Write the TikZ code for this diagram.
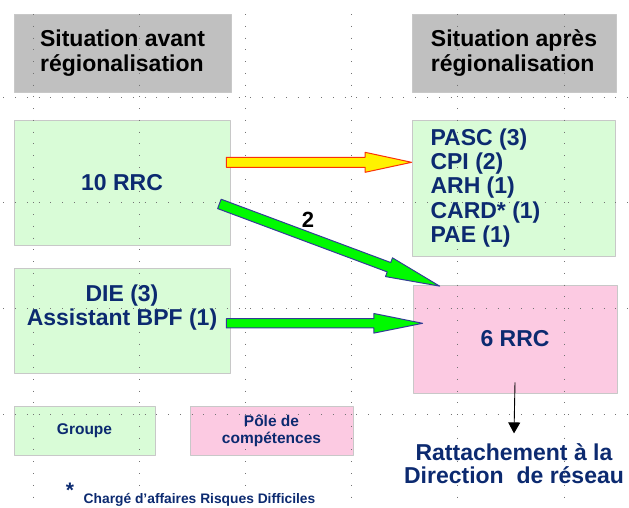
\documentclass[tikz,border=0pt]{standalone}
\usepackage{fontspec}
\setmainfont{Liberation Sans}
\usetikzlibrary{calc,arrows.meta}

\definecolor{navy}{RGB}{12,42,112}
\definecolor{boxgreen}{RGB}{217,252,215}
\definecolor{boxpink}{RGB}{252,202,226}
\definecolor{boxgray}{RGB}{192,192,192}
\definecolor{edgegray}{RGB}{200,200,200}
\definecolor{arrowgreen}{RGB}{0,250,0}
\definecolor{arrowblue}{RGB}{50,60,150}
\definecolor{arrowred}{RGB}{250,50,10}

% block arrow: tail, tip, half shaft, half head, head length, style
\newcommand{\fatarrow}[6]{%
  \coordinate (hb) at ($(#2)!#5!(#1)$);
  \draw[#6] ($(#1)!#3!90:(#2)$) -- ($(hb)!#3!90:(#2)$) -- ($(hb)!#4!90:(#2)$) -- (#2)
    -- ($(hb)!#4!-90:(#2)$) -- ($(hb)!#3!-90:(#2)$) -- ($(#1)!#3!-90:(#2)$) -- cycle;
}

\begin{document}
\begin{tikzpicture}[x=1pt,y=-1pt,line join=round,
  box/.style={draw=edgegray,line width=0.8pt,inner sep=0pt},
  titlebox/.style={box,fill=boxgray,minimum height=78pt,align=left,
    font=\fontsize{23}{24.5}\selectfont\bfseries},
  greenbox/.style={box,fill=boxgreen},
  pinkbox/.style={box,fill=boxpink},
  bigtxt/.style={text=navy,font=\fontsize{23}{24.3}\selectfont\bfseries},
  smalltxt/.style={text=navy,font=\fontsize{15.5}{17}\selectfont\bfseries},
  gridline/.style={draw=black!55,line width=0.9pt,dash pattern=on 0.9pt off 10.87pt}]
  \useasboundingbox (0,0) rectangle (629,507);

  % boxes
  \node[titlebox,minimum width=217pt] (titleAvant) at (122.5,53) {Situation avant\\régionalisation};
  \node[titlebox,minimum width=204pt] (titleApres) at (514,53) {Situation après\\régionalisation};
  \node[greenbox,bigtxt,minimum width=216pt,minimum height=125pt] (rrcAvant) at (122,182.5) {10 RRC};
  \node[greenbox,minimum width=216pt,minimum height=105pt] (dieBox) at (122,320.5) {};
  \node[greenbox,minimum width=203pt,minimum height=136pt] (poleBox) at (513.5,188) {};
  \node[pinkbox,bigtxt,minimum width=204pt,minimum height=108pt] (rrcApres) at (515,339) {6 RRC};
  \node[greenbox,smalltxt,minimum width=141pt,minimum height=49pt] (legGroupe) at (84.5,430.5) {Groupe};
  \node[pinkbox,smalltxt,align=center,minimum width=163pt,minimum height=49pt] (legPole) at (271.5,430.5) {Pôle de\\compétences};

  % dotted guides
  \foreach \gx in {0,...,5}
    \draw[gridline] (33+106.2*\gx,14) -- (33+106.2*\gx,507);
  \foreach \gy in {97,202.9,308.8,414.7}
    \draw[gridline] (3.3,\gy) -- (629,\gy);

  % texts
  \node[bigtxt,align=center] (dieTxt) at (122,307.5) {DIE (3)\\Assistant BPF (1)};
  \node[bigtxt,align=left,anchor=west] (poleTxt) at (427,188) {PASC (3)\\CPI (2)\\ARH (1)\\CARD* (1)\\PAE (1)};
  \node[bigtxt,align=center,font=\fontsize{23}{23}\selectfont\bfseries] (rattach) at (514,463.5) {Rattachement à la\\Direction\ \ de réseau};
  \node[font=\fontsize{22}{22}\selectfont\bfseries] (nbTwo) at (308,220) {2};
  \node[text=navy,font=\fontsize{21}{21}\selectfont\bfseries,anchor=base] (star) at (70,497) {*};
  \node[text=navy,font=\fontsize{13.8}{13.8}\selectfont\bfseries] (footnote) at (199.5,499.5) {Chargé d’affaires Risques Difficiles};

  % arrows
  \coordinate (yTail) at ($(rrcAvant.east)+(-4,-20.2)$);
  \coordinate (yTip) at (yTail -| poleBox.west);
  \coordinate (dTail) at ($(rrcAvant.south east)+(-11,-41.5)$);
  \coordinate (dTip) at ($(rrcApres.north west)+(27,1.5)$);
  \coordinate (gTail) at ($(dieBox.east)+(-4,2.8)$);
  \coordinate (gTip) at ($(gTail -| rrcApres.west)+(10,0)$);
  \coordinate (bTail) at ($(rrcApres.south)+(0,-11)$);
  \coordinate (bTip) at ($(rrcApres.south)+(-1,40)$);

  \fatarrow{yTail}{yTip}{5pt}{10pt}{46.5pt}{fill=yellow,draw=arrowred,line width=1pt}
  \fatarrow{dTail}{dTip}{5pt}{10pt}{54pt}{fill=arrowgreen,draw=arrowblue,line width=1pt}
  \fatarrow{gTail}{gTip}{4.6pt}{9.8pt}{48.7pt}{fill=arrowgreen,draw=arrowblue,line width=1pt}
  \draw[line width=0.9pt,-{Triangle[width=12pt,length=11pt]}] (bTail) -- (bTip);
\end{tikzpicture}
\end{document}
